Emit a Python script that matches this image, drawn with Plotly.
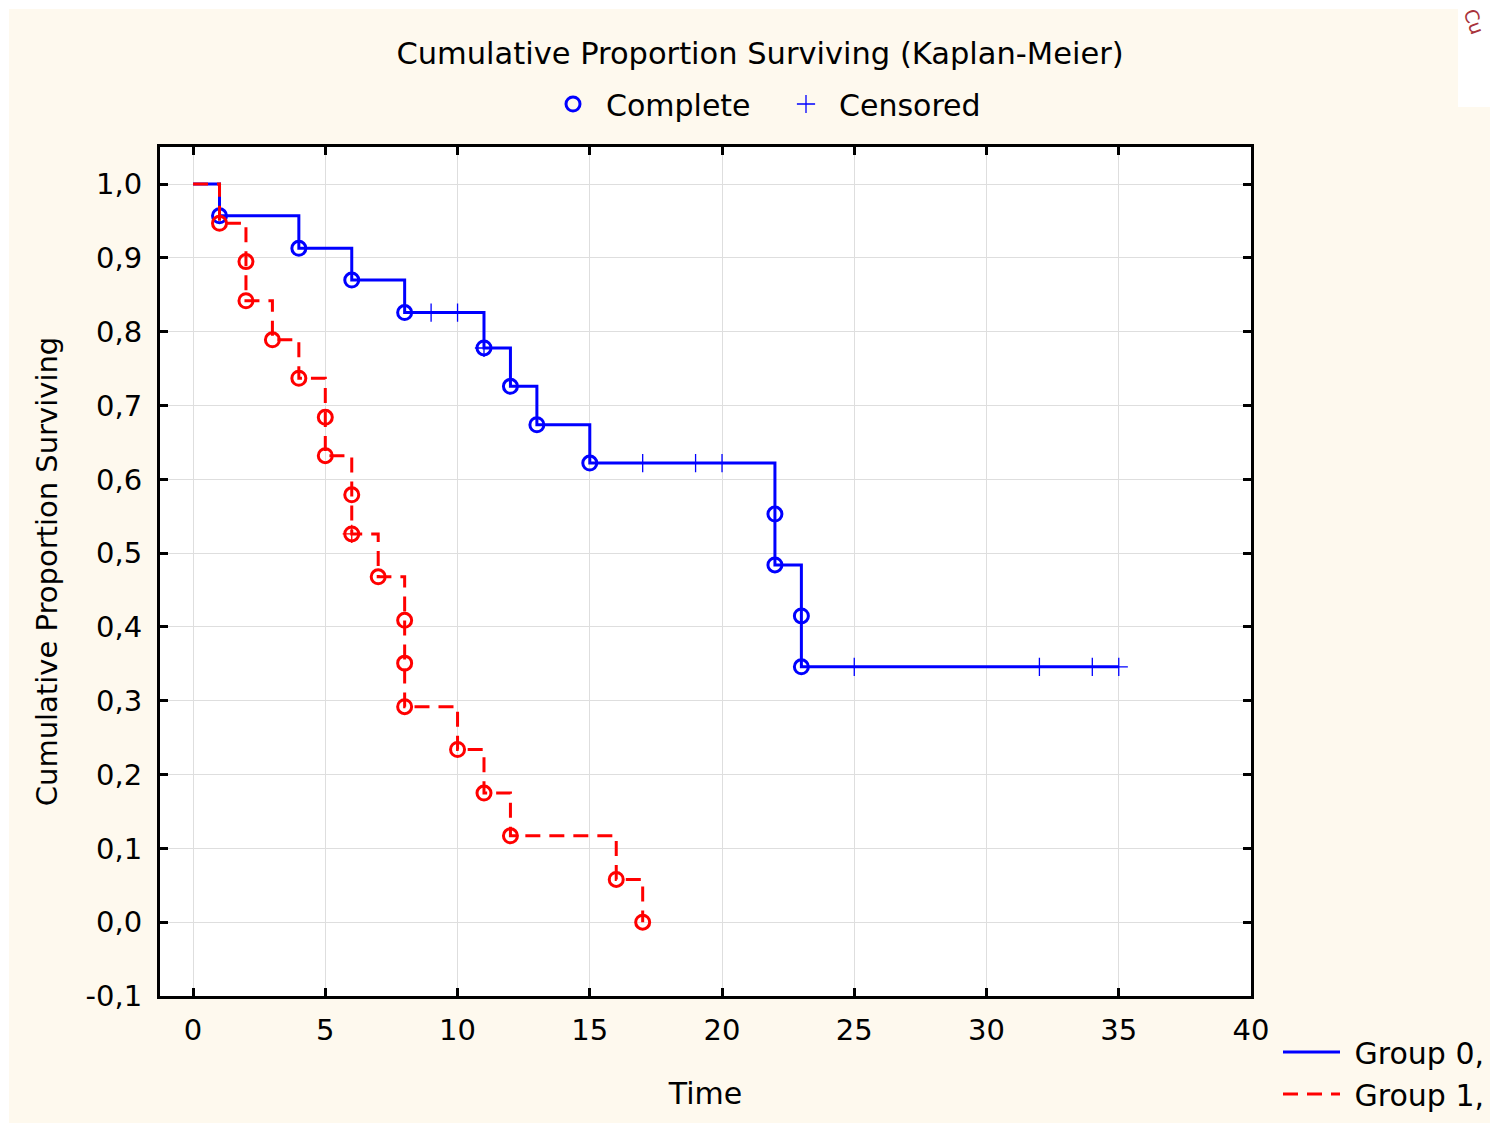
import plotly.graph_objects as go

# ---------------- data ----------------
g0_event_time = [1, 4, 6, 8, 11, 12, 13, 15, 22, 22, 23, 23]
g0_event_surv = [0.957, 0.913, 0.870, 0.826, 0.778, 0.726, 0.674, 0.622, 0.553, 0.484, 0.415, 0.346]
g0_cens_time = [9, 10, 11, 17, 19, 20, 25, 32, 34, 35]
g0_cens_surv = [0.826, 0.826, 0.778, 0.622, 0.622, 0.622, 0.346, 0.346, 0.346, 0.346]

g1_event_time = [1, 2, 2, 3, 4, 5, 5, 6, 6, 7, 8, 8, 8, 10, 11, 12, 16, 17]
g1_event_surv = [0.947, 0.895, 0.842, 0.789, 0.737, 0.684, 0.632, 0.579, 0.526,
                 0.468, 0.409, 0.351, 0.292, 0.234, 0.175, 0.117, 0.058, 0.0]
g1_cens_time = [6]
g1_cens_surv = [0.526]

x_ticks = [0, 5, 10, 15, 20, 25, 30, 35, 40]
y_ticks = [-0.1, 0.0, 0.1, 0.2, 0.3, 0.4, 0.5, 0.6, 0.7, 0.8, 0.9, 1.0]
y_tick_text = ["-0,1", "0,0", "0,1", "0,2", "0,3", "0,4", "0,5", "0,6", "0,7", "0,8", "0,9", "1,0"]

BLUE = "#0000ff"
RED = "#ff0000"
CREAM = "#fef9ee"
FONT = "DejaVu Sans, Verdana, sans-serif"
FS = 30

W, H = 1490, 1125
L, R, T, B = 160, 1251, 147, 996


def step_path(times, survs, end_time=None):
    xs = [0] + list(times)
    ys = [1.0] + list(survs)
    if end_time is not None and end_time > xs[-1]:
        xs.append(end_time)
        ys.append(ys[-1])
    return xs, ys


fig = go.Figure()

x0, y0 = step_path(g0_event_time, g0_event_surv, max(g0_cens_time))
x1, y1 = step_path(g1_event_time, g1_event_surv, max(g1_cens_time + g1_event_time))

NB = "\u00a0"

# Group lines (legend2)
fig.add_trace(go.Scatter(x=x0, y=y0, mode="lines", line=dict(color=BLUE, width=3, shape="hv"),
                         name=NB + "Group 0,", legend="legend2", hoverinfo="skip"))
fig.add_trace(go.Scatter(x=g0_event_time, y=g0_event_surv, mode="markers",
                         marker=dict(symbol="circle-open", size=14, color=BLUE, line=dict(width=3, color=BLUE)),
                         name="Complete", legend="legend"))
fig.add_trace(go.Scatter(x=g0_cens_time, y=g0_cens_surv, mode="markers",
                         marker=dict(symbol="cross-thin", size=13, color=BLUE, line=dict(width=1.3, color=BLUE)),
                         name="Censored", legend="legend"))

fig.add_trace(go.Scatter(x=x1, y=y1, mode="lines", line=dict(color=RED, width=3, shape="hv", dash="15px,9px"),
                         name=NB + "Group 1,", legend="legend2", hoverinfo="skip"))
fig.add_trace(go.Scatter(x=g1_event_time, y=g1_event_surv, mode="markers",
                         marker=dict(symbol="circle-open", size=14, color=RED, line=dict(width=3, color=RED)),
                         showlegend=False))
fig.add_trace(go.Scatter(x=g1_cens_time, y=g1_cens_surv, mode="markers",
                         marker=dict(symbol="cross-thin", size=13, color=RED, line=dict(width=1.3, color=RED)),
                         showlegend=False))

axis_common = dict(
    showline=True, linecolor="black", linewidth=3, mirror="ticks",
    ticks="inside", ticklen=8, tickwidth=3, tickcolor="black",
    showgrid=True, gridcolor="#dedede", gridwidth=1, zeroline=False,
    tickfont=dict(family=FONT, size=29, color="black"),
)

fig.update_xaxes(range=[-1.25, 40], tickvals=x_ticks, ticktext=[str(v) for v in x_ticks],
                 title=dict(text="Time", font=dict(family=FONT, size=FS, color="black"), standoff=38),
                 ticklabelstandoff=6, **axis_common)
fig.update_yaxes(range=[-0.1, 1.0503], tickvals=y_ticks, ticktext=y_tick_text,
                 title=dict(text="Cumulative Proportion Surviving", font=dict(family=FONT, size=29, color="black"),
                            standoff=20),
                 ticklabelstandoff=9, **axis_common)

shapes = [
    # white margins around the cream panel
    dict(type="rect", xref="paper", yref="paper", layer="below",
         x0=(0 - L) / (R - L), x1=(9 - L) / (R - L), y0=(B - H) / (B - T), y1=(B - 0) / (B - T),
         fillcolor="white", line=dict(width=0)),
    dict(type="rect", xref="paper", yref="paper", layer="below",
         x0=(0 - L) / (R - L), x1=(W - L) / (R - L), y0=(B - 9) / (B - T), y1=(B - 0) / (B - T),
         fillcolor="white", line=dict(width=0)),
    dict(type="rect", xref="paper", yref="paper", layer="below",
         x0=(0 - L) / (R - L), x1=(W - L) / (R - L), y0=(B - H) / (B - T), y1=(B - 1123) / (B - T),
         fillcolor="white", line=dict(width=0)),
    dict(type="rect", xref="paper", yref="paper", layer="below",
         x0=(1458 - L) / (R - L), x1=(W - L) / (R - L), y0=(B - 107) / (B - T), y1=(B - 0) / (B - T),
         fillcolor="white", line=dict(width=0)),
]

fig.update_layout(
    width=W, height=H,
    margin=dict(l=L, r=W - R, t=T, b=H - B, autoexpand=False),
    paper_bgcolor=CREAM, plot_bgcolor="white",
    font=dict(family=FONT, size=FS, color="black"),
    title=dict(text="Cumulative Proportion Surviving (Kaplan-Meier)", x=760 / W, xanchor="center",
               y=1 - 53 / H, yanchor="middle", xref="container", yref="container",
               font=dict(family=FONT, size=30.5, color="black")),
    legend=dict(orientation="h", xref="container", yref="container", x=540 / W, y=1 - 104 / H,
                xanchor="left", yanchor="middle", bgcolor="rgba(0,0,0,0)", itemwidth=56,
                entrywidth=162, entrywidthmode="pixels", font=dict(family=FONT, size=FS, color="black")),
    legend2=dict(orientation="v", xref="container", yref="container", x=1278 / W, y=1 - 1073 / H,
                 xanchor="left", yanchor="middle", bgcolor="rgba(0,0,0,0)", itemwidth=57,
                 font=dict(family=FONT, size=FS, color="black")),
    shapes=shapes,
    showlegend=True,
    annotations=[dict(text="Cu", xref="paper", yref="paper",
                      x=(1474 - L) / (R - L), y=(B - 21) / (B - T), showarrow=False,
                      xanchor="center", yanchor="middle",
                      textangle=70, font=dict(family=FONT, size=19, color="#a8323a"))],
)

fig.write_html("out.html")
